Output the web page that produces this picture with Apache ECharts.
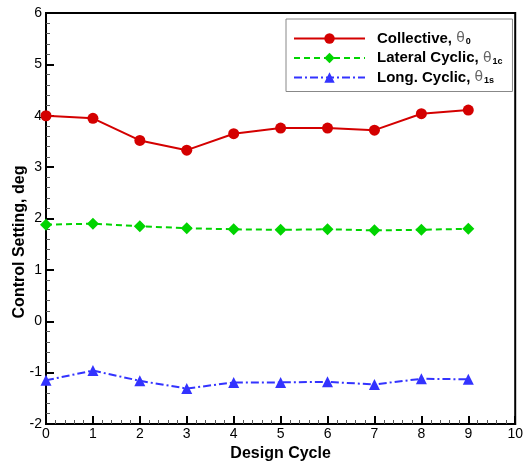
<!DOCTYPE html>
<html>
<head>
<meta charset="utf-8">
<script src="https://cdn.jsdelivr.net/npm/echarts@6/dist/echarts.min.js"></script>
<style>html,body{margin:0;padding:0;background:#fff}#c{width:526px;height:467px}</style>
</head>
<body>
<div id="c"></div>
<script>
const designCycles = [0, 1, 2, 3, 4, 5, 6, 7, 8, 9];
const collective = [4.00, 3.95, 3.52, 3.33, 3.65, 3.76, 3.76, 3.72, 4.04, 4.11];
const lateralCyclic = [1.88, 1.90, 1.85, 1.81, 1.79, 1.78, 1.79, 1.77, 1.78, 1.80];
const longCyclic = [-1.15, -0.96, -1.16, -1.31, -1.19, -1.19, -1.18, -1.23, -1.12, -1.13];
const seriesNames = ['Collective', 'Lateral Cyclic', 'Long. Cyclic'];
const subscripts = ['0', '1c', '1s'];

const pairs = arr => designCycles.map((x, i) => [x, arr[i]]);
const font = 'Liberation Sans, Arial, Helvetica, sans-serif';

const chart = echarts.init(document.getElementById('c'), null, {renderer: 'canvas'});
chart.setOption({
  animation: false,
  backgroundColor: '#fff',
  grid: {left: 46, right: 5, top: 13, bottom: 38, show: true, borderColor: '#000', borderWidth: 2, containLabel: false},
  legend: {
    left: 286, top: 19, orient: 'vertical',
    itemWidth: 71, itemHeight: 13, itemGap: 4,
    padding: [12, 10, 6, 7],
    borderColor: '#888', borderWidth: 1, backgroundColor: '#fff',
    data: seriesNames,
    formatter: function (name) {
      const i = seriesNames.indexOf(name);
      return '{b|' + name + ', }{t|θ}{s|' + subscripts[i] + '}';
    },
    textStyle: {
      fontFamily: font,
      padding: [0, 0, 0, 7],
      rich: {
        b: {fontSize: 15, fontWeight: 'bold', color: '#000', fontFamily: font, lineHeight: 16},
        t: {fontSize: 14, fontWeight: 'normal', color: '#666', fontFamily: 'DejaVu Sans, sans-serif', lineHeight: 16},
        s: {fontSize: 9, fontWeight: 'bold', color: '#000', fontFamily: font, verticalAlign: 'bottom', padding: [5, 0, 0, 1]}
      }
    }
  },
  xAxis: {
    type: 'value', min: 0, max: 10, interval: 1,
    name: 'Design Cycle', nameLocation: 'middle', nameGap: 22,
    nameTextStyle: {fontFamily: font, fontSize: 16, fontWeight: 'bold', color: '#000'},
    axisLine: {onZero: false, lineStyle: {color: '#000', width: 2}},
    axisTick: {inside: true, length: 8, lineStyle: {color: '#000', width: 2}},
    minorTick: {show: true, splitNumber: 5, length: 4, lineStyle: {color: '#555', width: 1}},
    axisLabel: {fontFamily: font, fontSize: 14, color: '#000', margin: 3},
    splitLine: {show: false}
  },
  yAxis: {
    type: 'value', min: -2, max: 6, interval: 1,
    axisLine: {show: true, onZero: false, lineStyle: {color: '#000', width: 2}},
    axisTick: {show: true, inside: true, length: 8, lineStyle: {color: '#000', width: 2}},
    minorTick: {show: true, splitNumber: 5, length: 4, lineStyle: {color: '#555', width: 1}},
    axisLabel: {fontFamily: font, fontSize: 14, color: '#000', margin: 4},
    splitLine: {show: false}
  },
  graphic: [{
    type: 'text', x: 20, y: 242, rotation: Math.PI / 2,
    style: {text: 'Control Setting, deg', font: 'bold 16px ' + font, fill: '#000', align: 'center', verticalAlign: 'middle'}
  }],
  series: [
    {
      name: seriesNames[0], type: 'line', data: pairs(collective), clip: false,
      symbol: 'circle', symbolSize: 11,
      itemStyle: {color: '#d40000'},
      lineStyle: {color: '#d40000', width: 2}
    },
    {
      name: seriesNames[1], type: 'line', data: pairs(lateralCyclic), clip: false,
      symbol: 'diamond', symbolSize: 12,
      itemStyle: {color: '#00d400'},
      lineStyle: {color: '#00d400', width: 2, type: [6, 4]}
    },
    {
      name: seriesNames[2], type: 'line', data: pairs(longCyclic), clip: false,
      symbol: 'triangle', symbolSize: 11,
      itemStyle: {color: '#3333ff'},
      lineStyle: {color: '#3333ff', width: 2, type: [8, 3, 2, 3]}
    }
  ]
});
</script>
</body>
</html>
